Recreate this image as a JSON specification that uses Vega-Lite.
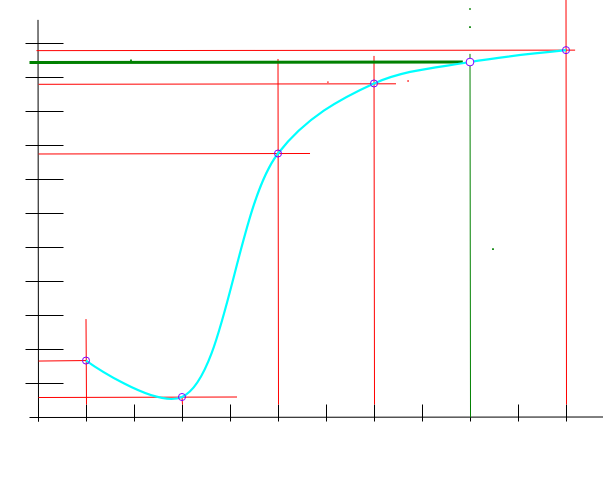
{
  "$schema": "https://vega.github.io/schema/vega-lite/v6.json",
  "width": 565,
  "height": 417,
  "padding": {"left": 38, "top": 0, "right": 0, "bottom": 62},
  "autosize": {"type": "none"},
  "background": "white",
  "config": {"view": {"stroke": null}},
  "encoding": {
    "x": {
      "field": "x", "type": "quantitative",
      "scale": {"domain": [0, 11.7708], "nice": false, "zero": false},
      "axis": {"values": [0,1,2,3,4,5,6,7,8,9,10,11], "domain": false, "labels": false, "grid": false, "ticks": true, "tickSize": 17, "offset": -13, "tickColor": "black", "tickWidth": 1, "title": null}
    },
    "y": {
      "field": "y", "type": "quantitative",
      "scale": {"domain": [0, 12.2647], "nice": false, "zero": false},
      "axis": {"values": [1,2,3,4,5,6,7,8,9,10,11], "domain": false, "labels": false, "grid": false, "ticks": true, "tickSize": 38, "offset": -25, "tickColor": "black", "tickWidth": 1, "title": null}
    }
  },
  "layer": [
    {
      "data": {"values": [
        {"x": 0, "y": -0.118, "x2": 0, "y2": 11.68},
        {"x": -0.1875, "y": 0, "x2": 11.78, "y2": 0}
      ]},
      "mark": {"type": "rule", "color": "black", "strokeWidth": 1, "xOffset": 0.5, "yOffset": 0.5},
      "encoding": {"x2": {"field": "x2"}, "y2": {"field": "y2"}}
    },
    {
      "data": {"values": [
        {"x": 1, "y": 0.382, "x2": 1, "y2": 2.88},
        {"x": 3, "y": 0.382, "x2": 3, "y2": 0.588},
        {"x": 5, "y": 0.382, "x2": 5, "y2": 10.53},
        {"x": 7, "y": 0.382, "x2": 7, "y2": 10.62},
        {"x": 11, "y": 0.382, "x2": 11, "y2": 12.265},
        {"x": 0, "y": 1.66, "x2": 1, "y2": 1.66},
        {"x": 0, "y": 0.588, "x2": 4.146, "y2": 0.588},
        {"x": 0, "y": 7.75, "x2": 5.667, "y2": 7.75},
        {"x": 0, "y": 9.8, "x2": 7.458, "y2": 9.8},
        {"x": -0.042, "y": 10.79, "x2": 11.19, "y2": 10.79}
      ]},
      "mark": {"type": "rule", "color": "#ff0000", "strokeWidth": 1, "xOffset": 0.5, "yOffset": 0.5},
      "encoding": {"x2": {"field": "x2"}, "y2": {"field": "y2"}}
    },
    {
      "data": {"values": [
        {"x": 9, "y": 0, "x2": 9, "y2": 10.68}
      ]},
      "mark": {"type": "rule", "color": "#008000", "strokeWidth": 1, "xOffset": 0.5, "yOffset": 0.5},
      "encoding": {"x2": {"field": "x2"}, "y2": {"field": "y2"}}
    },
    {
      "data": {"values": [
        {"x": -0.1875, "y": 10.44, "x2": 8.85, "y2": 10.44}
      ]},
      "mark": {"type": "rule", "color": "#008000", "strokeWidth": 3, "xOffset": 0.5, "yOffset": 0.5},
      "encoding": {"x2": {"field": "x2"}, "y2": {"field": "y2"}}
    },
    {
      "data": {"values": [
        {"x": 1, "y": 1.66},
        {"x": 3, "y": 0.588},
        {"x": 5, "y": 7.75},
        {"x": 7, "y": 9.81},
        {"x": 9, "y": 10.44},
        {"x": 11, "y": 10.79}
      ]},
      "mark": {"type": "line", "color": "#00ffff", "strokeWidth": 2.2, "interpolate": "catmull-rom"}
    },
    {
      "data": {"values": [
        {"x": 1, "y": 1.66},
        {"x": 3, "y": 0.588},
        {"x": 5, "y": 7.75},
        {"x": 7, "y": 9.81},
        {"x": 11, "y": 10.79}
      ]},
      "mark": {"type": "point", "shape": "circle", "filled": false, "stroke": "#8000ff", "strokeWidth": 1, "size": 50, "opacity": 1}
    },
    {
      "data": {"values": [
        {"x": 9, "y": 10.44}
      ]},
      "mark": {"type": "point", "shape": "circle", "filled": false, "fill": "white", "stroke": "#8000ff", "strokeWidth": 1, "size": 60, "opacity": 1}
    },
    {
      "data": {"values": [
        {"x": 9, "y": 12.0},
        {"x": 9, "y": 11.47},
        {"x": 9.479, "y": 4.94},
        {"x": 1.9375, "y": 10.49}
      ]},
      "mark": {"type": "square", "color": "#008000", "size": 3, "opacity": 1}
    },
    {
      "data": {"values": [
        {"x": 6.04, "y": 9.85},
        {"x": 7.71, "y": 9.88}
      ]},
      "mark": {"type": "square", "color": "#ff0000", "size": 2, "opacity": 1}
    }
  ]
}
